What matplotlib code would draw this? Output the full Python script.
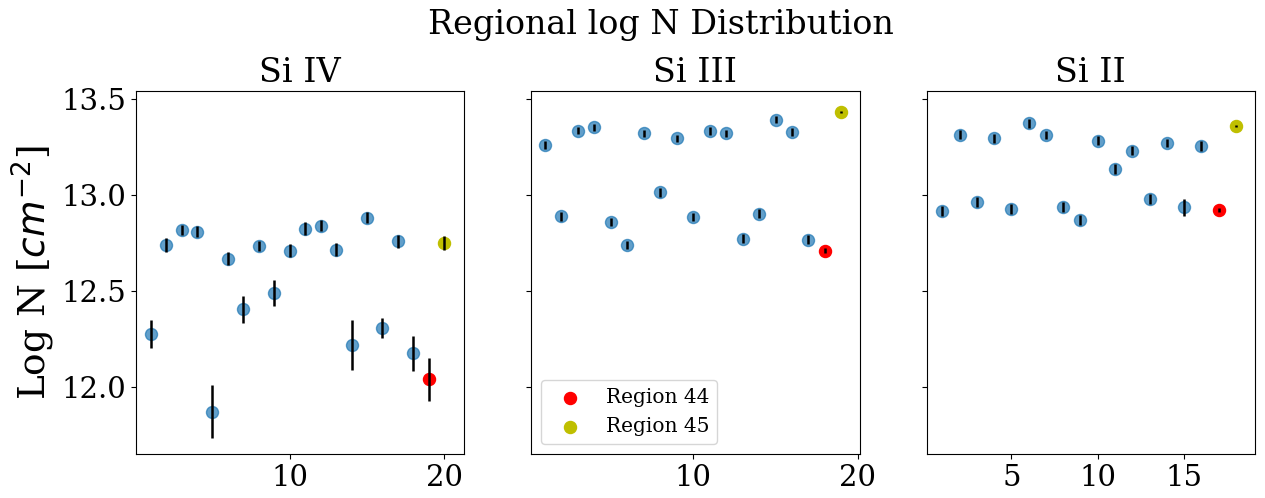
import matplotlib
matplotlib.use("Agg")
import matplotlib.pyplot as plt
import numpy as np

plt.rcParams['font.family'] = 'DejaVu Serif'

# Si IV : regions 1-20 (19 = region 44, 20 = region 45)
si4_logn = [12.277, 12.739, 12.818, 12.808, 11.873, 12.669, 12.404, 12.733, 12.489, 12.711,
            12.825, 12.841, 12.716, 12.220, 12.882, 12.310, 12.759, 12.175, 12.041, 12.751]
si4_err = [0.073, 0.036, 0.028, 0.028, 0.140, 0.035, 0.071, 0.025, 0.068, 0.036,
           0.032, 0.030, 0.036, 0.129, 0.030, 0.052, 0.034, 0.093, 0.111, 0.035]

# Si III : regions 1-19
si3_logn = [13.259, 12.888, 13.335, 13.353, 12.858, 12.740, 13.321, 13.013, 13.294, 12.886,
            13.334, 13.320, 12.773, 12.902, 13.392, 13.328, 12.768, 12.711, 13.431]
si3_err = [0.022, 0.022, 0.020, 0.018, 0.020, 0.022, 0.018, 0.022, 0.020, 0.022,
           0.020, 0.016, 0.022, 0.024, 0.018, 0.020, 0.024, 0.015, 0.005]

# Si II : regions 1-18
si2_logn = [12.917, 13.314, 12.964, 13.294, 12.926, 13.372, 13.313, 12.938, 12.869, 13.283,
            13.136, 13.231, 12.978, 13.271, 12.935, 13.255, 12.921, 13.361]
si2_err = [0.026, 0.024, 0.026, 0.024, 0.026, 0.024, 0.022, 0.026, 0.026, 0.024,
           0.026, 0.024, 0.026, 0.022, 0.044, 0.024, 0.010, 0.005]

ions = ['Si IV', 'Si III', 'Si II']
logn = [si4_logn, si3_logn, si2_logn]
errs = [si4_err, si3_err, si2_err]
xlims = [(0.05, 21.3), (0.18, 20.1), (0.09, 19.1)]
xticks = [[10, 20], [10, 20], [5, 10, 15]]

fig, axes = plt.subplots(1, 3, figsize=(12.65, 4.98), dpi=100, sharey=True)
fig.subplots_adjust(left=0.1075, right=0.992, bottom=0.088, top=0.818, wspace=0.204)

for ax, ion, y, e, xl, xt in zip(axes, ions, logn, errs, xlims, xticks):
    y = np.array(y)
    e = np.array(e)
    x = np.arange(1, len(y) + 1)
    # all regions except the last two
    ax.scatter(x[:-2], y[:-2], s=75, color='tab:blue', alpha=0.7, zorder=2)
    ax.scatter(x[-2], y[-2], s=75, color='r', zorder=2, label='Region 44')
    ax.scatter(x[-1], y[-1], s=75, color='y', zorder=2, label='Region 45')
    ax.errorbar(x, y, yerr=e, fmt='none', ecolor='k', elinewidth=1.8, zorder=3)
    ax.set_title(ion, fontsize=24)
    ax.set_xlim(*xl)
    ax.set_xticks(xt)
    ax.tick_params(labelsize=21)

axes[0].set_ylim(11.651, 13.543)
axes[0].set_yticks([12.0, 12.5, 13.0, 13.5])
axes[0].set_ylabel(r'Log N [$cm^{-2}$]', fontsize=27, labelpad=3)
axes[1].legend(loc='lower left', fontsize=14.5)

fig.suptitle('Regional log N Distribution', fontsize=24, x=0.5225, y=0.981)

plt.savefig('out.png', dpi=100)
